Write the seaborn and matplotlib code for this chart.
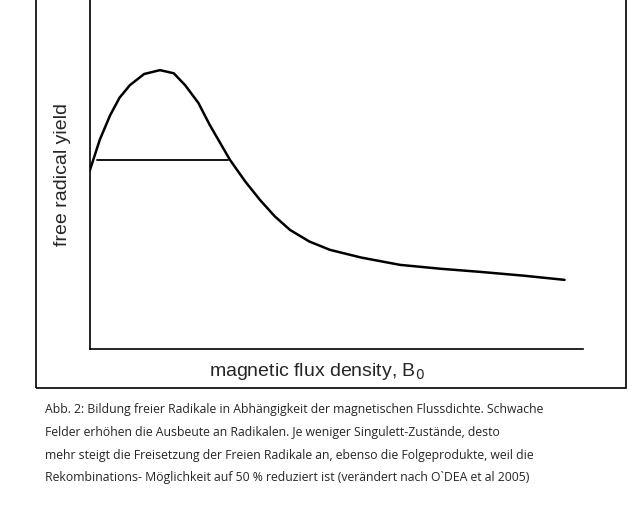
import numpy as np
import matplotlib
matplotlib.use("Agg")
import matplotlib.pyplot as plt
import seaborn as sns
from matplotlib.patches import Rectangle

# values (arbitrary units)
flux = [0.0, 0.2, 0.41, 0.6, 0.81, 1.1, 1.42, 1.7, 1.93, 2.2, 2.43, 2.84, 3.15, 3.45, 3.75, 4.06, 4.45, 4.87, 5.5, 6.29, 7.1, 7.91, 8.8, 9.63]
yield_ = [5.13, 6.0, 6.70, 7.20, 7.56, 7.88, 7.99, 7.90, 7.56, 7.05, 6.42, 5.42, 4.80, 4.27, 3.80, 3.41, 3.08, 2.84, 2.62, 2.41, 2.30, 2.21, 2.10, 1.98]
hline_x = [0.14, 2.80]
hline_y = 5.42

caption = [
    "Abb. 2: Bildung freier Radikale in Abhängigkeit der magnetischen Flussdichte. Schwache",
    "Felder erhöhen die Ausbeute an Radikalen. Je weniger Singulett-Zustände, desto",
    "mehr steigt die Freisetzung der Freien Radikale an, ebenso die Folgeprodukte, weil die",
    "Rekombinations- Möglichkeit auf 50 % reduziert ist (verändert nach O`DEA et al 2005)",
]

sns.set_style("white")
plt.rcParams['font.family'] = ['Liberation Sans', 'DejaVu Sans']

fig = plt.figure(figsize=(6.4, 5.05), dpi=100)
ax = fig.add_axes([0.1406, 0.309, 0.770, 0.691])
sns.lineplot(x=flux, y=yield_, ax=ax, color='black', linewidth=1.8)
ax.plot(hline_x, [hline_y, hline_y], color='black', linewidth=1.3)
ax.set_xlim(0, 10)
ax.set_ylim(0, 10)
ax.set_xticks([])
ax.set_yticks([])
for s in ['top', 'right']:
    ax.spines[s].set_visible(False)
for s in ['left', 'bottom']:
    ax.spines[s].set_color('black')
    ax.spines[s].set_linewidth(1.2)
ax.set_ylabel('free radical yield', fontsize=14, labelpad=14)
ax.set_xlabel('magnetic flux density, B$_0$', fontsize=14)
ax.xaxis.set_label_coords(0.46, -0.035)

fig.patches.append(Rectangle((0.056, 0.232), 0.922, 0.8, transform=fig.transFigure,
                             fill=False, edgecolor='black', linewidth=1.2))

for i, line in enumerate(caption):
    fig.text(0.07, 1 - (410 + i * 22.5) / 505, line, fontsize=8.8, va='center',
             ha='left', family=['Open Sans', 'DejaVu Sans'])

fig.savefig('out.png', dpi=100)
